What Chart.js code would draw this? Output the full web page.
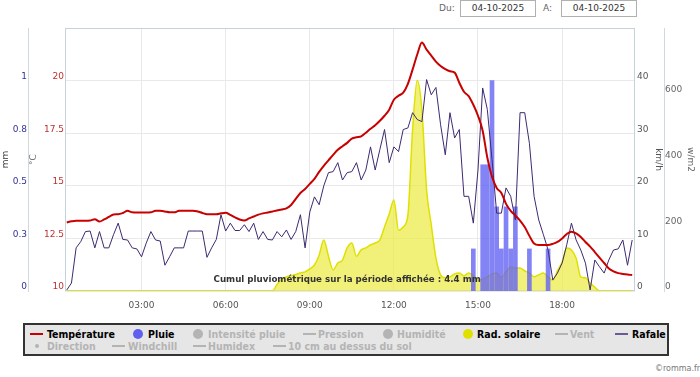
<!DOCTYPE html>
<html>
<head>
<meta charset="utf-8">
<script src="https://cdn.jsdelivr.net/npm/chart.js@4.4.1/dist/chart.umd.min.js"></script>
<style>
body{margin:0;background:#fff;font-family:"DejaVu Sans",Verdana,sans-serif;}
#page{position:relative;width:700px;height:377px;overflow:hidden;}
#zone{position:absolute;left:0;top:0;width:700px;height:322px;}
.txt{position:absolute;font-size:9px;color:#666;line-height:17px;top:0;}
.date{position:absolute;top:0;height:17px;width:76px;border:1px solid #b0b0b0;box-sizing:border-box;font-size:9px;line-height:15px;text-align:center;color:#333;}
#legende{position:absolute;left:23px;top:323px;width:646px;height:33px;box-sizing:border-box;border:2px solid #333;background:#e6e6e6;}
.it{position:absolute;white-space:nowrap;font-family:"DejaVu Sans Condensed","DejaVu Sans",sans-serif;font-stretch:condensed;font-weight:bold;font-size:10.5px;line-height:12px;}
.sym{position:absolute;}
#copy{position:absolute;left:655px;top:364px;font-size:8px;color:#777;}
</style>
</head>
<body>
<div id="page">
  <span class="txt" style="left:439px">Du:</span>
  <div class="date" style="left:460px">04-10-2025</div>
  <span class="txt" style="left:543px">A:</span>
  <div class="date" style="left:561px">04-10-2025</div>
  <div id="zone"><canvas id="meteoChart" width="700" height="322"></canvas></div>
  <div id="legende"></div>
  <div id="copy">©romma.fr</div>
</div>
<script>
// releves toutes les 10 minutes
var heures = ['00:20','00:30','00:40','00:50',
  '01:00','01:10','01:20','01:30','01:40','01:50','02:00','02:10','02:20','02:30','02:40','02:50',
  '03:00','03:10','03:20','03:30','03:40','03:50','04:00','04:10','04:20','04:30','04:40','04:50',
  '05:00','05:10','05:20','05:30','05:40','05:50','06:00','06:10','06:20','06:30','06:40','06:50',
  '07:00','07:10','07:20','07:30','07:40','07:50','08:00','08:10','08:20','08:30','08:40','08:50',
  '09:00','09:10','09:20','09:30','09:40','09:50','10:00','10:10','10:20','10:30','10:40','10:50',
  '11:00','11:10','11:20','11:30','11:40','11:50','12:00','12:10','12:20','12:30','12:40','12:50',
  '13:00','13:10','13:20','13:30','13:40','13:50','14:00','14:10','14:20','14:30','14:40','14:50',
  '15:00','15:10','15:20','15:30','15:40','15:50','16:00','16:10','16:20','16:30','16:40','16:50',
  '17:00','17:10','17:20','17:30','17:40','17:50','18:00','18:10','18:20','18:30','18:40','18:50',
  '19:00','19:10','19:20','19:30','19:40','19:50','20:00','20:10','20:20','20:30'];

var temperature = [13.26,13.31,13.34,13.34,13.34,13.35,13.41,13.30,13.40,13.52,13.64,13.65,13.71,13.81,13.74,13.73,
  13.73,13.73,13.74,13.81,13.81,13.78,13.74,13.74,13.81,13.82,13.82,13.82,13.78,13.71,13.65,13.65,
  13.65,13.69,13.72,13.62,13.50,13.40,13.35,13.45,13.54,13.63,13.69,13.73,13.78,13.83,13.87,13.93,
  14.09,14.38,14.66,14.85,15.09,15.33,15.66,15.95,16.21,16.47,16.71,16.88,17.04,17.24,17.31,17.35,
  17.52,17.71,17.88,18.09,18.33,18.62,19.09,19.28,19.43,19.85,20.52,21.24,21.81,21.47,21.19,20.90,
  20.69,20.54,20.44,20.38,19.90,19.47,19.26,18.85,18.33,17.62,16.33,15.43,14.90,14.66,14.14,13.81,
  13.59,13.35,13.04,12.62,12.26,12.19,12.19,12.19,12.24,12.33,12.50,12.71,12.82,12.74,12.57,12.33,
  12.11,11.85,11.59,11.33,11.07,10.93,10.85,10.81,10.78,10.76];

var rafale = [0.2,1.5,8.2,9.4,11.3,11.4,8.2,11.3,8.2,8.2,10.7,12.9,9.8,9.7,8.2,8.0,
  6.5,9.1,11.3,9.7,9.5,4.9,6.5,8.2,8.2,8.2,11.4,11.4,11.4,11.4,6.4,8.2,
  9.8,14.5,11.4,12.9,11.5,11.5,12.6,11.3,12.9,9.8,11.3,9.8,9.7,11.3,10.3,11.6,
  9.8,11.3,14.5,8.2,15.0,17.9,16.4,20.0,22.5,22.7,24.4,21.1,22.5,22.7,24.4,21.1,
  23.0,27.4,23.0,26.9,30.7,24.4,27.4,26.5,30.7,31.0,33.9,32.6,32.2,40.2,37.3,38.7,
  31.6,25.9,33.9,29.1,30.7,18.0,18.0,12.9,23.0,38.6,34.5,25.0,14.8,14.8,19.6,18.0,
  13.5,33.9,33.9,28.1,18.0,13.5,10.7,7.8,2.1,3.4,5.3,8.8,12.9,9.7,7.8,5.3,
  0.2,5.9,4.6,3.4,5.9,7.8,8.0,9.7,4.9,9.7];

var radSolaire = [0,0,0,0,0,0,0,0,0,0,0,0,0,0,0,0,
  0,0,0,0,0,0,0,0,0,0,0,0,0,0,0,0,
  0,0,0,0,0,0,0,0,0,0,0,0,0,20,36,43,
  47,50,55,58,67,79,109,155,106,64,85,94,131,146,106,125,
  131,140,146,155,195,234,277,185,195,231,489,641,550,307,201,100,
  49,40,43,52,55,46,55,46,33,36,43,52,55,40,58,73,
  70,70,61,55,43,49,55,43,33,61,88,131,125,100,43,40,
  24,12,0,0,0,0,0,0,0,0];

var heuresPluie = ['14:50','15:10','15:20','15:30','15:40','15:50','16:00','16:10','16:20','16:50','17:30'];
var pluie = [0.2,0.6,0.6,1.0,0.4,0.2,0.4,0.2,0.4,0.2,0.2];

var ticksHeures = ['03:00','06:00','09:00','12:00','15:00','18:00'];
var ticksTemp = [10,12.5,15,17.5,20,22.5];
var ticksPluie = [0,0.25,0.5,0.75,1,1.25];
var ticksRafale = [0,10,20,30,40,50];
var ticksSolaire = [0,200,400,600,800];
var cumulPluie = '4.4';

function enHeures(s){
    var p = s.split(':');
    return parseInt(p[0], 10) + parseInt(p[1], 10) / 60;
}
function points(xs, ys){
    return xs.map(function(h, i){ return {x: enHeures(h), y: ys[i]}; });
}
function fixeTicks(liste){
    return function(scale){ scale.ticks = liste.map(function(v){ return {value: v}; }); };
}
function sansDernier(liste, fmt){
    return function(v){ return v === liste[liste.length - 1] ? '' : fmt(v); };
}

var policeAxe = {family: 'DejaVu Sans', size: 9};
var grille = '#e9e9e9';

// cadre du graphique + texte du cumul
var cadre = {
    id: 'cadre',
    beforeDatasetsDraw: function(chart){
        var a = chart.chartArea, ctx = chart.ctx;
        ctx.save();
        ctx.strokeStyle = '#c4d4d6';
        ctx.lineWidth = 1;
        ctx.strokeRect(a.left + 0.5, a.top + 0.5, a.right - a.left - 1, a.bottom - a.top - 1);
        ctx.restore();
    },
    afterDatasetsDraw: function(chart){
        var ctx = chart.ctx, sx = chart.scales.x;
        ctx.save();
        ctx.font = 'bold 8.7px "DejaVu Sans"';
        ctx.fillStyle = '#333';
        ctx.textAlign = 'center';
        ctx.textBaseline = 'middle';
        ctx.fillText('Cumul pluviométrique sur la période affichée : ' + cumulPluie + ' mm',
            sx.getPixelForValue(enHeures('10:20')), chart.chartArea.bottom - 11);
        ctx.restore();
    }
};

const meteoChart = new Chart(document.getElementById('meteoChart'), {
    type: 'line',
    data: {
        datasets: [{
            label: 'Température',
            data: points(heures, temperature),
            yAxisID: 'yTemp',
            borderColor: '#c80000',
            borderWidth: 2,
            pointRadius: 0,
            cubicInterpolationMode: 'monotone',
            order: 0
        }, {
            label: 'Rafale',
            data: points(heures, rafale),
            yAxisID: 'yRafale',
            borderColor: '#3d2a70',
            borderWidth: 1,
            pointRadius: 0,
            tension: 0,
            order: 1
        }, {
            type: 'bar',
            label: 'Pluie',
            data: points(heuresPluie, pluie),
            yAxisID: 'yPluie',
            backgroundColor: 'rgba(100,100,242,0.8)',
            barThickness: 4,
            order: 2
        }, {
            label: 'Rad. solaire',
            data: points(heures, radSolaire),
            yAxisID: 'ySolaire',
            borderColor: '#e0e000',
            borderWidth: 1.5,
            backgroundColor: 'rgba(236,236,70,0.72)',
            fill: 'origin',
            pointRadius: 0,
            cubicInterpolationMode: 'monotone',
            order: 3
        }]
    },
    options: {
        responsive: false,
        animation: false,
        devicePixelRatio: 1,
        layout: {padding: {top: 28, left: 0, right: 0, bottom: 0}},
        plugins: {legend: {display: false}, tooltip: {enabled: false}},
        scales: {
            x: {
                type: 'linear',
                offset: false,
                min: 0.27,
                max: 20.6,
                afterBuildTicks: fixeTicks(ticksHeures.map(enHeures)),
                afterFit: function(s){ s.height = 31; },
                grid: {color: grille, drawTicks: false, offset: false},
                border: {display: false},
                ticks: {
                    font: policeAxe, color: '#555', padding: 9, maxRotation: 0,
                    callback: function(v){
                        var h = Math.floor(v), m = Math.round((v - h) * 60);
                        return (h < 10 ? '0' : '') + h + ':' + (m < 10 ? '0' : '') + m;
                    }
                }
            },
            yTemp: {
                position: 'left',
                min: 10, max: 22.5,
                afterBuildTicks: fixeTicks(ticksTemp),
                afterFit: function(s){ s.width = 37; },
                grid: {color: grille, drawTicks: false},
                border: {display: false},
                title: {display: true, text: '°C', color: '#777', font: policeAxe, padding: 0},
                ticks: {font: policeAxe, color: '#c03030', padding: 1, labelOffset: -4,
                    callback: sansDernier(ticksTemp, function(v){ return String(v); })}
            },
            yPluie: {
                position: 'left',
                min: 0, max: 1.25,
                afterBuildTicks: fixeTicks(ticksPluie),
                afterFit: function(s){ s.width = 28; },
                grid: {display: false, drawTicks: false},
                border: {display: true, color: '#d0d8e0'},
                title: {display: true, text: 'mm', color: '#333', font: policeAxe, padding: 0},
                ticks: {font: policeAxe, color: '#333399', padding: 1, labelOffset: -4,
                    callback: sansDernier(ticksPluie, function(v){ return String(Number(v.toFixed(1))); })}
            },
            yRafale: {
                position: 'right',
                min: 0, max: 50,
                afterBuildTicks: fixeTicks(ticksRafale),
                afterFit: function(s){ s.width = 29; },
                grid: {display: false, drawTicks: false},
                border: {display: false},
                title: {display: true, text: 'km/h', color: '#555', font: policeAxe, padding: 0},
                ticks: {font: policeAxe, color: '#555', padding: 2, labelOffset: -4,
                    callback: sansDernier(ticksRafale, function(v){ return String(v); })}
            },
            ySolaire: {
                position: 'right',
                min: 0, max: 800,
                afterBuildTicks: fixeTicks(ticksSolaire),
                afterFit: function(s){ s.width = 36; },
                grid: {display: false, drawTicks: false},
                border: {display: true, color: '#d0d8e0'},
                title: {display: true, text: 'w/m2', color: '#666', font: policeAxe, padding: {top: 4, bottom: 0}},
                ticks: {font: policeAxe, color: '#666', padding: 1, labelOffset: -4,
                    callback: sansDernier(ticksSolaire, function(v){ return String(v); })}
            }
        }
    },
    plugins: [cadre]
});

// legende facon highcharts
var gris = '#b4b4b4';
var legende = [
    ['Température', '#c80000', 'ligne', 30, 47, 0, true],
    ['Pluie', '#6060f0', 'rond', 133, 148, 0, true],
    ['Intensité pluie', gris, 'rond', 193, 208, 0, false],
    ['Pression', gris, 'ligne', 303, 318, 0, false],
    ['Humidité', gris, 'rond', 383, 397, 0, false],
    ['Rad. solaire', '#e0e000', 'rond', 463, 477, 0, true],
    ['Vent', gris, 'ligne', 555, 570, 0, false],
    ['Rafale', '#6b5b95', 'ligne', 615, 632, 0, true],
    ['Direction', gris, 'point', 35, 47, 1, false],
    ['Windchill', gris, 'ligne', 112, 128, 1, false],
    ['Humidex', gris, 'ligne', 193, 208, 1, false],
    ['10 cm au dessus du sol', gris, 'ligne', 273, 288, 1, false]
];
var boite = document.getElementById('legende');
legende.forEach(function(l){
    var yc = (l[5] === 0 ? 333.5 : 346) - 325;
    var s = document.createElement('div');
    s.className = 'sym';
    if (l[2] === 'ligne') {
        s.style.cssText = 'left:' + (l[3] - 25) + 'px;top:' + (yc - 1) + 'px;width:13px;height:2px;background:' + l[1];
    } else if (l[2] === 'rond') {
        s.style.cssText = 'left:' + (l[3] - 25) + 'px;top:' + (yc - 5) + 'px;width:10px;height:10px;border-radius:5px;background:' + l[1];
    } else {
        s.style.cssText = 'left:' + (l[3] - 25) + 'px;top:' + (yc - 2) + 'px;width:4px;height:4px;border-radius:2px;background:' + l[1];
    }
    boite.appendChild(s);
    var t = document.createElement('div');
    t.className = 'it';
    t.textContent = l[0];
    t.style.left = (l[4] - 25) + 'px';
    t.style.top = (yc - 6) + 'px';
    t.style.color = l[6] ? '#000' : gris;
    boite.appendChild(t);
});
</script>
</body>
</html>
